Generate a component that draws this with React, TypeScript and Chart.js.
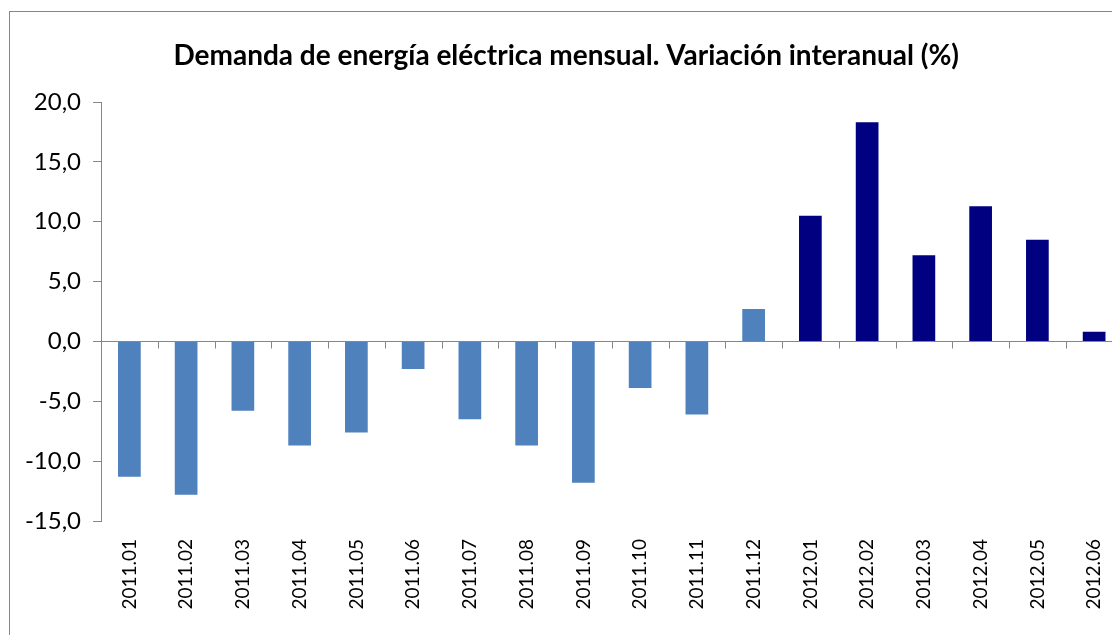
import React, { useEffect, useRef } from "react";
import { Chart, registerables } from "chart.js";

Chart.register(...registerables);

const titleText = "Demanda de energía eléctrica mensual. Variación interanual (%)";
const categories = [
  "2011.01", "2011.02", "2011.03", "2011.04", "2011.05", "2011.06",
  "2011.07", "2011.08", "2011.09", "2011.10", "2011.11", "2011.12",
  "2012.01", "2012.02", "2012.03", "2012.04", "2012.05", "2012.06",
];
const values = [
  -11.3, -12.8, -5.8, -8.7, -7.6, -2.3,
  -6.5, -8.7, -11.8, -3.9, -6.1, 2.7,
  10.5, 18.3, 7.2, 11.3, 8.5, 0.8,
];
const yTicks = [-15, -10, -5, 0, 5, 10, 15, 20];

const color2011 = "#4F81BD";
const color2012 = "#000080";
const axisColor = "#868686";
const FONT = "Lato";

const zeroAxisPlugin = {
  id: "zeroAxis",
  afterDatasetsDraw(chart: any) {
    const { ctx } = chart;
    const xs = chart.scales.x;
    const ys = chart.scales.y;
    const y0 = Math.round(ys.getPixelForValue(0)) + 0.5;
    const band = xs.width / categories.length;
    ctx.save();
    ctx.strokeStyle = axisColor;
    ctx.lineWidth = 1;
    ctx.beginPath();
    ctx.moveTo(xs.left, y0);
    ctx.lineTo(xs.right, y0);
    for (let i = 0; i <= categories.length; i++) {
      const px = Math.round(xs.getPixelForValue(0) - band / 2 + i * band) + 0.5;
      ctx.moveTo(px, y0);
      ctx.lineTo(px, y0 + 7);
    }
    ctx.stroke();
    ctx.restore();
  },
};

export default function App() {
  const canvasRef = useRef<HTMLCanvasElement | null>(null);

  useEffect(() => {
    if (!canvasRef.current) return;
    const chart = new Chart(canvasRef.current, {
      type: "bar",
      data: {
        labels: categories,
        datasets: [
          {
            data: values,
            backgroundColor: categories.map((c) => (c.startsWith("2011") ? color2011 : color2012)),
            borderWidth: 0,
            barPercentage: 0.4,
            categoryPercentage: 1.0,
          },
        ],
      },
      options: {
        animation: false,
        responsive: false,
        devicePixelRatio: 1,
        layout: { padding: { left: 0, right: 27.5, top: 0, bottom: 0 } },
        plugins: {
          legend: { display: false },
          tooltip: { enabled: false },
          title: {
            display: true,
            text: titleText,
            color: "#000",
            font: { family: FONT, size: 28, weight: "bold", lineHeight: 1.2 },
            padding: { top: 27.2, bottom: 29.2 },
          },
        },
        scales: {
          x: {
            grid: { display: false, drawTicks: false },
            border: { display: false },
            ticks: {
              color: "#000",
              font: { family: FONT, size: 19 },
              minRotation: 90,
              maxRotation: 90,
              autoSkip: false,
              padding: 18,
            },
            afterFit: (s: any) => {
              s.height = 191;
            },
          },
          y: {
            min: -15,
            max: 20,
            afterBuildTicks: (s: any) => {
              s.ticks = yTicks.map((v) => ({ value: v }));
            },
            grid: {
              drawOnChartArea: false,
              drawTicks: true,
              tickLength: 8,
              tickColor: axisColor,
            },
            border: { display: true, color: axisColor },
            ticks: {
              color: "#000",
              font: { family: FONT, size: 24 },
              padding: 12,
              callback: (v: any) => Number(v).toFixed(1).replace(".", ","),
            },
            afterFit: (s: any) => {
              s.width = 91;
            },
          },
        },
      },
      plugins: [zeroAxisPlugin],
    });
    return () => chart.destroy();
  }, []);

  return (
    <div
      style={{
        position: "fixed",
        left: 0,
        top: 0,
        width: "100vw",
        height: "100vh",
        overflow: "hidden",
        background: "#fff",
      }}
    >
      <div
        style={{
          position: "absolute",
          left: 9,
          top: 11,
          width: 1140,
          height: 700,
          border: `1px solid ${axisColor}`,
        }}
      >
        <canvas ref={canvasRef} width={1140} height={700} style={{ display: "block" }} />
      </div>
    </div>
  );
}
